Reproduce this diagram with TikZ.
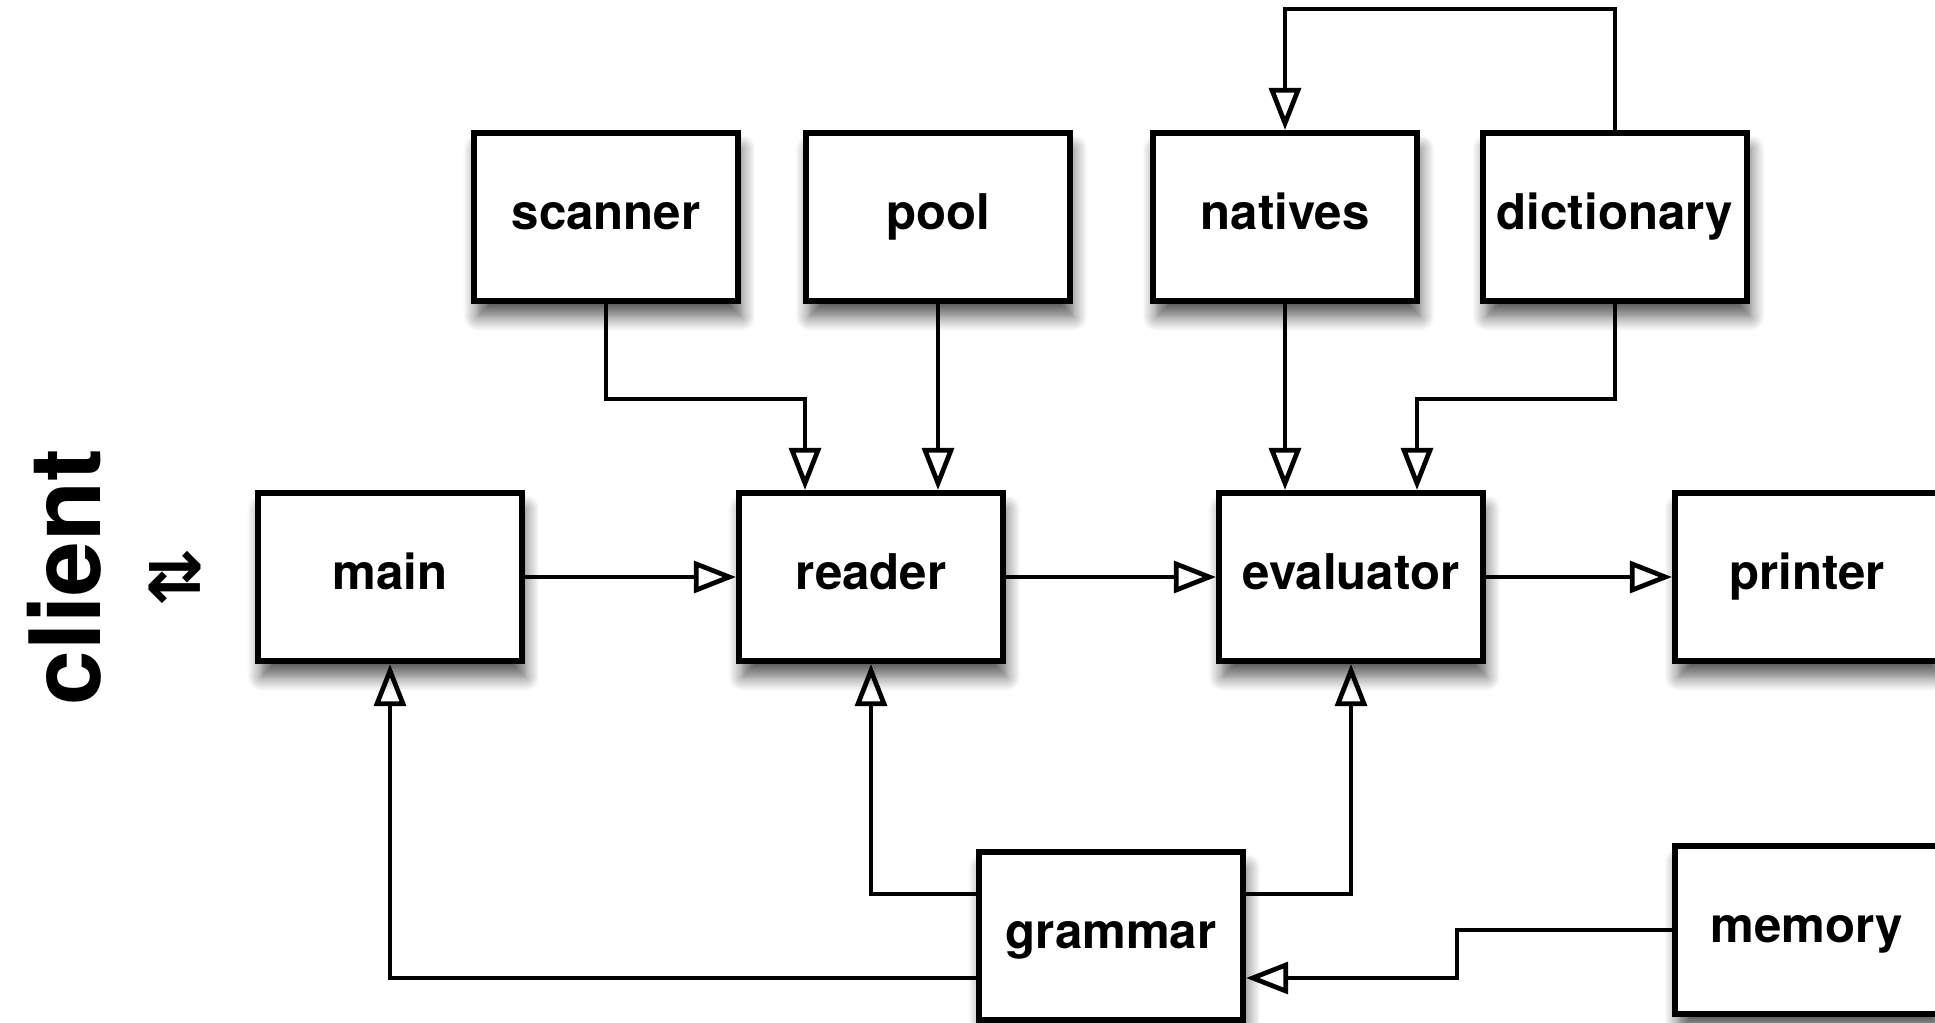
\documentclass[tikz,border=0pt]{standalone}
\usepackage{fontspec}
\setmainfont{TeX Gyre Heros}
\newfontfamily\arrowfont{DejaVu Sans}
\usetikzlibrary{arrows.meta,shadows.blur}

\def\boxw{2.64cm}
\def\boxh{1.68cm}

\begin{document}
\begin{tikzpicture}[draw=black, >={Triangle[open,length=12pt,width=9pt]}]
        \tikzstyle{module}=[rectangle, draw=black, line width=1.7pt, fill=white, minimum width=\boxw, minimum height=\boxh, text height=10pt, text depth=3pt, font=\fontsize{14}{17}\selectfont\bfseries, blur shadow={shadow xshift=1pt, shadow yshift=-4.5pt, shadow blur radius=4pt, shadow blur steps=8, shadow opacity=65}]
        \tikzstyle{link}=[->, line width=1.35pt]

        \useasboundingbox (0,0) rectangle (19.35,-10.23);

        \node[rotate=90, font=\fontsize{28}{34}\selectfont\bfseries] (client) at (0.64,-5.77) {client};
        \node[font=\arrowfont\bfseries\fontsize{20}{24}\selectfont] (swap) at (1.75,-5.77) {⇄};

        \node[module] (scanner) at (6.06,-2.17) {scanner};
        \node[module] (pool) at (9.38,-2.17) {pool};
        \node[module] (natives) at (12.85,-2.17) {natives};
        \node[module] (dictionary) at (16.15,-2.17) {dictionary};

        \node[module] (main) at (3.90,-5.77) {main};
        \node[module] (reader) at (8.71,-5.77) {reader};
        \node[module] (evaluator) at (13.51,-5.77) {evaluator};
        \node[module] (printer) at (18.07,-5.77) {printer};

        \node[module] (grammar) at (11.11,-9.36) {grammar};
        \node[module] (memory) at (18.07,-9.30) {memory};

        \draw[link] (scanner.south) -- ++(0,-0.95) -| ([xshift=-0.66cm]reader.north);
        \draw[link] (pool.south) -- (pool.south |- reader.north);
        \draw[link] (natives.south) -- (natives.south |- evaluator.north);
        \draw[link] (dictionary.south) -- ++(0,-0.95) -| ([xshift=0.66cm]evaluator.north);
        \draw[link] (dictionary.north) -- ++(0,1.21) -| (natives.north);

        \draw[link] (main.east) -- (reader.west);
        \draw[link] (reader.east) -- (evaluator.west);
        \draw[link] (evaluator.east) -- (printer.west);

        \draw[link] ([yshift=0.42cm]grammar.west) -| (reader.south);
        \draw[link] ([yshift=0.42cm]grammar.east) -| (evaluator.south);
        \draw[link] ([yshift=-0.42cm]grammar.west) -| (main.south);
        \draw[link] (memory.west) -- ++(-2.15,0) |- ([yshift=-0.42cm]grammar.east);
\end{tikzpicture}
\end{document}
